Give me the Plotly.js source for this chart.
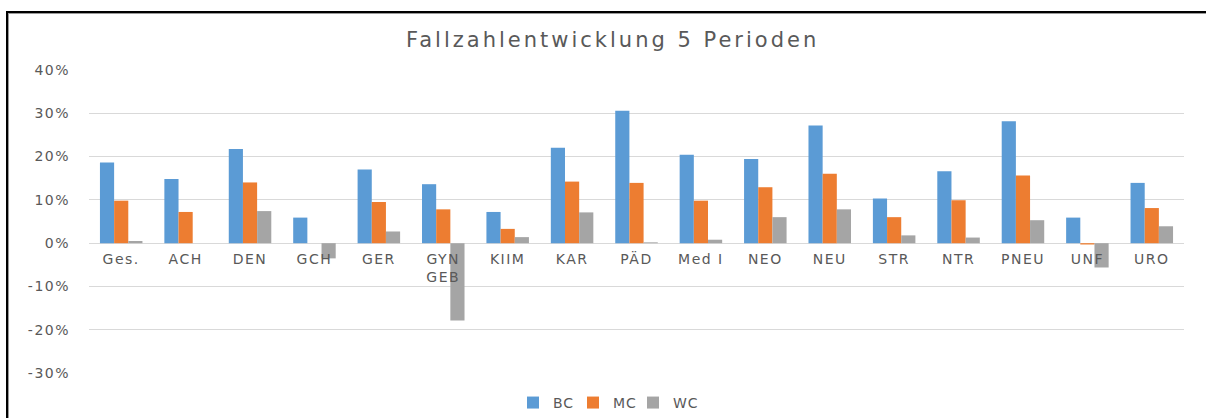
<!DOCTYPE html>
<html>
<head>
<meta charset="utf-8">
<script src="https://cdn.plot.ly/plotly-3.0.1.min.js"></script>
<style>
  html, body { margin: 0; padding: 0; background: #fff; overflow: hidden; }
  #chart { position: absolute; left: 0; top: 0; width: 1206px; height: 418px; }
  #frame { position: absolute; left: 6px; top: 11px; width: 1400px; height: 600px;
           border-left: 2px solid #000; border-top: 2px solid #000;
           box-shadow: inset 1px 1px 0 #9a9a9a; pointer-events: none; }
  #chart .gtitle { letter-spacing: 3px; }
  #chart .xtick text, #chart .ytick text { letter-spacing: 1.5px; }
  #chart .legendtext { letter-spacing: 1px; }
  #chart .legend .scrollbox { clip-path: none !important; }
</style>
</head>
<body>
<div id="chart"></div>
<div id="frame"></div>
<script>
const categories = ["Ges.", "ACH", "DEN", "GCH", "GER", "GYN GEB", "KIIM", "KAR", "PÄD", "Med I", "NEO", "NEU", "STR", "NTR", "PNEU", "UNF", "URO"];
const categoryLabels = ["Ges.", "ACH", "DEN", "GCH", "GER", "GYN<br>GEB", "KIIM", "KAR", "PÄD", "Med I", "NEO", "NEU", "STR", "NTR", "PNEU", "UNF", "URO"];
const BC = [18.6, 14.8, 21.7, 5.9, 17.0, 13.6, 7.2, 22.0, 30.5, 20.4, 19.4, 27.1, 10.3, 16.6, 28.1, 5.9, 13.9];
const MC = [9.8, 7.2, 14.0, 0.0, 9.5, 7.8, 3.3, 14.2, 13.9, 9.8, 12.9, 16.0, 6.0, 9.9, 15.6, -0.3, 8.1];
const WC = [0.5, 0.0, 7.4, -3.5, 2.7, -17.8, 1.4, 7.1, 0.2, 0.8, 6.0, 7.8, 1.8, 1.3, 5.3, -5.6, 3.9];
const yTickVals = [-30, -20, -10, 0, 10, 20, 30, 40];
const yTickText = ["-30%", "-20%", "-10%", "0%", "10%", "20%", "30%", "40%"];

const font = "DejaVu Sans, Open Sans, sans-serif";
const textColor = "#595959";

const traces = [
  { name: "BC", y: BC, color: "#5B9BD5" },
  { name: "MC", y: MC, color: "#ED7D31" },
  { name: "WC", y: WC, color: "#A5A5A5" }
].map(s => ({
  type: "bar",
  name: s.name,
  x: categories,
  y: s.y,
  marker: { color: s.color, line: { width: 0 } },
  hoverinfo: "skip"
}));

const yMin = -30.15, yMax = 40.15;

const layout = {
  width: 1206,
  height: 418,
  paper_bgcolor: "#ffffff",
  plot_bgcolor: "#ffffff",
  margin: { l: 89, r: 22, t: 69.35, b: 43.65 },
  barmode: "group",
  bargap: 0.34,
  bargroupgap: 0,
  title: {
    text: "Fallzahlentwicklung 5 Perioden",
    font: { family: font, size: 21, color: textColor },
    x: 0.508, xref: "container", xanchor: "center",
    y: 0.906, yref: "container", yanchor: "middle"
  },
  xaxis: {
    type: "category",
    tickvals: categories,
    ticktext: categoryLabels,
    anchor: "free",
    position: (0 - yMin) / (yMax - yMin),
    showgrid: false,
    showline: false,
    zeroline: false,
    ticks: "",
    tickfont: { family: font, size: 14, color: textColor },
    ticklabelstandoff: 6
  },
  yaxis: {
    range: [yMin, yMax],
    tickvals: yTickVals,
    ticktext: yTickText,
    showgrid: true,
    gridcolor: "#D9D9D9",
    gridwidth: 1,
    zeroline: true,
    zerolinecolor: "#D9D9D9",
    zerolinewidth: 1,
    showline: false,
    ticks: "",
    tickfont: { family: font, size: 14, color: textColor },
    ticklabelstandoff: 18
  },
  showlegend: true,
  legend: {
    orientation: "h",
    x: 0.5, xref: "container", xanchor: "center",
    y: 0.036, yref: "container", yanchor: "middle",
    font: { family: font, size: 14, color: textColor },
    entrywidth: 15,
    bgcolor: "rgba(0,0,0,0)"
  }
};

Plotly.newPlot("chart", traces, layout, { staticPlot: true, displayModeBar: false });
</script>
</body>
</html>
